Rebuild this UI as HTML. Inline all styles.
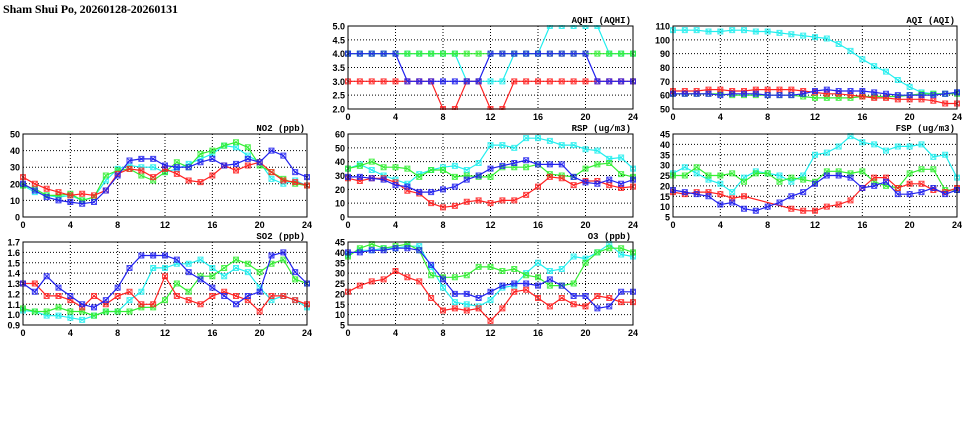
<!DOCTYPE html>
<html><head><meta charset="utf-8"><style>
html,body{margin:0;padding:0;background:#fff;}
svg{display:block;font-family:"Liberation Sans",sans-serif;}
</style></head><body>
<svg id="c" width="975" height="447" viewBox="0 0 975 447">
<text x="3" y="13" font-size="12" font-weight="bold" font-family="Liberation Serif, serif" textLength="175">Sham Shui Po, 20260128-20260131</text>
</svg>
<script>
const hours = [0,1,2,3,4,5,6,7,8,9,10,11,12,13,14,15,16,17,18,19,20,21,22,23,24];
const xTicks = [0,4,8,12,16,20,24];
const seriesNames = ["cyan","green","red","blue"];
const seriesColors = ["#22eeee","#33ee33","#ff2222","#2222ee"];

const aqhiCyan = [4,4,4,4,4,4,4,4,4,4,3,3,3,3,4,4,4,5,5,5,5,5,4,4,4];
const aqhiGreen = [4,4,4,4,4,4,4,4,4,4,4,4,4,4,4,4,4,4,4,4,4,4,4,4,4];
const aqhiRed = [3,3,3,3,3,3,3,3,2,2,3,3,2,2,3,3,3,3,3,3,3,3,3,3,3];
const aqhiBlue = [4,4,4,4,4,3,3,3,3,3,3,3,4,4,4,4,4,4,4,4,4,3,3,3,3];
const aqhiTicks = ["2.0","2.5","3.0","3.5","4.0","4.5","5.0"];

const aqiCyan = [107,107,107,106,106,107,107,106,106,105,104,103,102,101,97,92,86,81,77,71,66,62,61,61,62];
const aqiGreen = [61,61,61,61,61,60,60,60,60,60,60,59,58,58,58,58,59,59,59,59,60,61,61,61,61];
const aqiRed = [63,63,63,64,64,63,63,64,64,64,64,63,62,61,61,60,59,58,58,57,57,57,56,54,54];
const aqiBlue = [61,61,61,61,60,61,61,61,60,60,60,61,63,64,63,63,63,62,61,60,60,60,60,61,62];
const aqiTicks = ["50","60","70","80","90","100","110"];

const no2Cyan = [19,15,13,12,13,10,12,22,29,31,30,30,27,29,32,35,38,43,42,37,33,23,20,22,19];
const no2Green = [19,17,13,13,14,10,12,25,28,29,25,22,27,33,30,38,40,43,45,42,31,27,23,20,19];
const no2Red = [24,20,17,15,13,14,13,16,26,29,28,24,29,26,22,21,25,31,28,31,33,27,22,21,19];
const no2Blue = [20,16,12,10,9,8,9,16,25,34,35,35,31,30,30,33,35,31,32,35,33,40,37,27,24];
const no2Ticks = ["0","10","20","30","40","50"];

const rspCyan = [35,38,34,30,27,24,31,34,36,37,34,39,52,52,50,57,57,55,52,52,49,48,42,43,35];
const rspGreen = [35,37,40,36,36,35,29,34,34,29,30,29,29,36,36,36,38,31,30,29,35,38,39,31,29];
const rspRed = [28,26,28,28,25,19,17,10,7,8,11,12,10,12,12,16,22,29,28,23,26,26,23,21,22];
const rspBlue = [29,29,28,27,23,22,18,18,20,22,27,30,35,37,39,41,38,38,38,29,25,24,27,24,27];
const rspTicks = ["0","10","20","30","40","50","60"];

const fspCyan = [26,29,26,23,21,17,24,27,26,25,22,25,35,36,39,44,41,40,37,39,39,40,34,35,24];
const fspGreen = [25,25,29,25,25,26,22,26,26,22,24,23,22,27,27,26,27,22,20,19,26,28,28,18,18];
const fspRed = [17,16,17,17,16,14,15,null,null,null,9,8,8,10,11,13,19,24,24,19,21,21,18,17,19];
const fspBlue = [18,17,16,15,11,12,9,8,10,12,15,17,21,25,25,24,19,20,22,16,16,17,19,16,18];
const fspTicks = ["5","10","15","20","25","30","35","40","45"];

const so2Cyan = [1.04,1.03,0.99,0.99,0.97,0.95,0.99,1.03,1.03,1.14,1.22,1.45,1.45,1.49,1.49,1.53,1.45,1.37,1.45,1.41,1.26,1.14,1.18,1.14,1.07];
const so2Green = [1.06,1.03,1.03,1.07,1.03,1.03,0.99,1.03,1.03,1.03,1.07,1.07,1.14,1.30,1.22,1.37,1.37,1.45,1.53,1.49,1.41,1.49,1.53,1.34,1.30];
const so2Red = [1.30,1.30,1.18,1.18,1.14,1.07,1.18,1.10,1.18,1.22,1.10,1.10,1.37,1.18,1.14,1.10,1.18,1.22,1.18,1.14,1.03,1.18,1.18,1.14,1.10];
const so2Blue = [1.30,1.22,1.37,1.26,1.18,1.10,1.07,1.14,1.26,1.45,1.57,1.57,1.57,1.53,1.41,1.34,1.26,1.18,1.10,1.18,1.22,1.57,1.60,1.41,1.30];
const so2Ticks = ["0.9","1.0","1.1","1.2","1.3","1.4","1.5","1.6","1.7"];

const o3Cyan = [39,41,41,42,42,43,43,33,23,16,15,14,17,23,24,30,35,31,32,38,37,40,44,39,38];
const o3Green = [38,42,44,42,43,44,41,29,28,28,29,33,33,31,32,29,28,24,24,25,35,40,42,42,40];
const o3Red = [21,24,26,27,31,28,26,18,12,13,12,13,7,13,21,22,18,14,18,15,14,19,18,16,16];
const o3Blue = [40,40,41,41,42,42,41,34,27,20,20,18,21,24,25,25,24,27,24,19,19,13,14,21,21];
const o3Ticks = ["5","10","15","20","25","30","35","40","45"];

const panels = [
 {name:"aqhi", title:"AQHI (AQHI)", x0:348, x1:633, y0:26, y1:109, ticks:aqhiTicks, series:[aqhiCyan,aqhiGreen,aqhiRed,aqhiBlue]},
 {name:"aqi", title:"AQI (AQI)", x0:673, x1:957, y0:26, y1:109, ticks:aqiTicks, series:[aqiCyan,aqiGreen,aqiRed,aqiBlue]},
 {name:"no2", title:"NO2 (ppb)", x0:23, x1:307, y0:134, y1:217, ticks:no2Ticks, series:[no2Cyan,no2Green,no2Red,no2Blue]},
 {name:"rsp", title:"RSP (ug/m3)", x0:348, x1:633, y0:134, y1:217, ticks:rspTicks, series:[rspCyan,rspGreen,rspRed,rspBlue]},
 {name:"fsp", title:"FSP (ug/m3)", x0:673, x1:957, y0:134, y1:217, ticks:fspTicks, series:[fspCyan,fspGreen,fspRed,fspBlue]},
 {name:"so2", title:"SO2 (ppb)", x0:23, x1:307, y0:242, y1:325, ticks:so2Ticks, series:[so2Cyan,so2Green,so2Red,so2Blue]},
 {name:"o3", title:"O3 (ppb)", x0:348, x1:633, y0:242, y1:325, ticks:o3Ticks, series:[o3Cyan,o3Green,o3Red,o3Blue]}
];

const NS = "http://www.w3.org/2000/svg";
const svg = document.getElementById("c");
function mk(tag, attrs, parent){
  const e = document.createElementNS(NS, tag);
  for (const k in attrs) e.setAttribute(k, attrs[k]);
  (parent||svg).appendChild(e);
  return e;
}
panels.forEach(p => {
  const g = mk("g", {});
  
  
  const vmin = parseFloat(p.ticks[0]), vmax = parseFloat(p.ticks[p.ticks.length-1]);
  const sx = h => p.x0 + (h - hours[0]) / (hours[hours.length-1] - hours[0]) * (p.x1 - p.x0);
  const sy = v => p.y1 - (v - vmin) / (vmax - vmin) * (p.y1 - p.y0);
  // grid & y labels
  p.ticks.forEach(t => {
    const y = sy(parseFloat(t));
    if (y > p.y0 + 0.5 && y < p.y1 - 0.5) {
      const l = mk("line", {x1:p.x0, x2:p.x1, y1:y, y2:y, stroke:"#000", "stroke-width":1, "stroke-dasharray":"1,2"}, g);
      
      
    }
    const tx = mk("text", {x:p.x0-3, y:y+3.5, "font-size":9, "font-weight":"bold", "text-anchor":"end"}, g);
    tx.textContent = t;
    
    
  });
  xTicks.forEach(t => {
    const x = sx(t);
    if (x > p.x0 + 0.5 && x < p.x1 - 0.5) {
      const l = mk("line", {x1:x, x2:x, y1:p.y0, y2:p.y1, stroke:"#000", "stroke-width":1, "stroke-dasharray":"1,2"}, g);
      
      
    }
    const tx = mk("text", {x:x, y:p.y1+11, "font-size":9, "font-weight":"bold", "text-anchor":"middle"}, g);
    tx.textContent = t;
    
    
  });
  const title = mk("text", {x:p.x1-2, y:p.y0-3, "font-size":9, "font-weight":"bold", "text-anchor":"end", "font-family":"Liberation Mono, monospace"}, g);
  title.textContent = p.title;
  
  
  const clip = mk("clipPath", {id:"clip-"+p.name}, g);
  mk("rect", {x:p.x0-4, y:p.y0-1, width:p.x1-p.x0+8, height:p.y1-p.y0+2}, clip);
  const sg = mk("g", {"clip-path":"url(#clip-"+p.name+")"}, g);
  p.series.forEach((vals, si) => {
    const col = seriesColors[si];
    const pts = [];
    vals.forEach((v, i) => { if (v !== null) pts.push([sx(hours[i]), sy(v)]); });
    const line = mk("polyline", {points: pts.map(q => q[0].toFixed(1)+","+q[1].toFixed(1)).join(" "), fill:"none", stroke:col, "stroke-width":1.2}, sg);
    
    
    pts.forEach(q => {
      const m = mk("path", {d:`M${q[0]-2.5},${q[1]-2.5}h5v5h-5zM${q[0]-2.5},${q[1]-2.5}l5,5M${q[0]+2.5},${q[1]-2.5}l-5,5`, fill:"none", stroke:col, "stroke-width":1, opacity:0.85}, sg);
      
      
    });
  });
  const frame = mk("rect", {x:p.x0, y:p.y0, width:p.x1-p.x0, height:p.y1-p.y0, fill:"none", stroke:"#000", "stroke-width":1}, g);
  
  
});
</script>
</body></html>
